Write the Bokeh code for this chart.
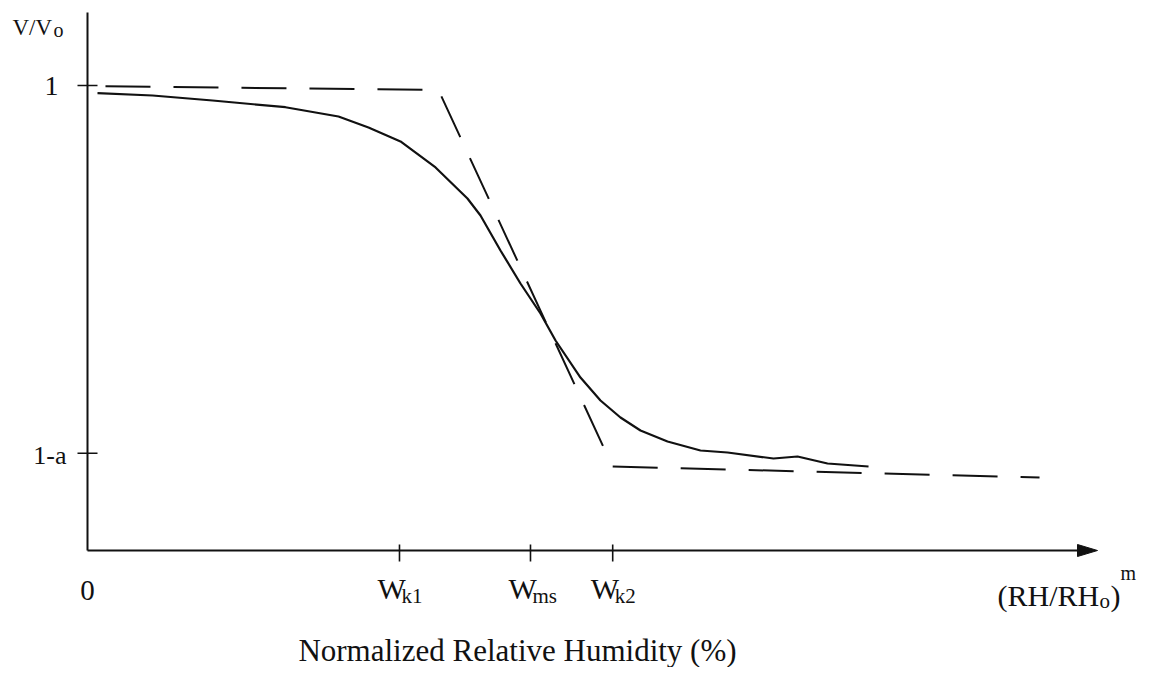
from bokeh.plotting import figure
from bokeh.models import Range1d
from bokeh.core.properties import value
from bokeh.embed import file_html
from bokeh.resources import INLINE

# ---------------- data ----------------
A = 0.791                      # the step height "a"  (V/Vo drops from 1 to 1-a)
X_END = 100.0                  # end of the (RH/RHo)^m axis (arrow tip)
Y_TOP = 1.157                  # top of the V/Vo axis

# measured response (solid curve)
x_curve = [0.99, 6.44, 12.38, 19.60, 24.85, 27.82, 30.99, 34.46, 37.62, 38.91,
           40.89, 42.87, 44.85, 46.34, 48.81, 50.79, 52.77, 54.75, 57.43, 60.69,
           63.37, 67.92, 70.30, 73.27, 77.33]
y_curve = [0.9834, 0.9785, 0.9677, 0.9533, 0.9333, 0.9097, 0.8796, 0.8237, 0.7570, 0.7204,
           0.6452, 0.5742, 0.5097, 0.4516, 0.3720, 0.3226, 0.2860, 0.2581, 0.2344, 0.2151,
           0.2108, 0.1978, 0.2022, 0.1871, 0.1806]

# piecewise-linear approximation (dashed)
x_approx = [1.78, 34.75, 51.98, 94.26]
y_approx = [0.9985, 0.9903, 0.1806, 0.1570]

# axis ticks
x_ticks = [30.89, 43.86, 52.0]
x_tick_main = ["W", "W", "W"]
x_tick_sub = ["k1", "ms", "k2"]
y_ticks = [1.0, 1.0 - A]
y_tick_labels = ["1", "1-a"]

# ---------------- layout (pixel scale of the drawing) ----------------
PX_X = 10.1     # pixels per x unit
PX_Y = 465.0    # pixels per y unit
W, H = 1137, 667
X0_PX, Y0_PX = 87, 550   # figure pixel of the origin

x_start = -X0_PX / PX_X
x_end = (W - X0_PX) / PX_X
y_end = Y0_PX / PX_Y
y_start = -(H - Y0_PX) / PX_Y

p = figure(width=W, height=H, output_backend="svg", toolbar_location=None,
           x_range=Range1d(x_start, x_end), y_range=Range1d(y_start, y_end),
           x_axis_type=None, y_axis_type=None, min_border=0,
           outline_line_color=None, background_fill_color="white",
           border_fill_color="white")
p.xgrid.visible = False
p.ygrid.visible = False

INK = "#111111"
FONT = value("Liberation Serif")

# axes
p.segment(x0=[0.0], y0=[0.0], x1=[0.0], y1=[Y_TOP], line_color=INK, line_width=2)
head_len = 20 / PX_X
head_half = 6 / PX_Y
p.segment(x0=[0.0], y0=[0.0], x1=[X_END - head_len * 0.5], y1=[0.0], line_color=INK, line_width=2)
p.patch(x=[X_END, X_END - head_len, X_END - head_len],
        y=[0.0, head_half, -head_half], fill_color=INK, line_color=INK, line_width=1)

# ticks
p.segment(x0=[-10 / PX_X] * len(y_ticks), y0=y_ticks, x1=[10 / PX_X] * len(y_ticks), y1=y_ticks,
          line_color=INK, line_width=1.6)
p.segment(x0=x_ticks, y0=[6 / PX_Y] * len(x_ticks), x1=x_ticks, y1=[-11 / PX_Y] * len(x_ticks),
          line_color=INK, line_width=1.6)

# curves
p.line(x_approx, y_approx, line_color=INK, line_width=2, line_dash="45 23")
p.line(x_curve, y_curve, line_color=INK, line_width=2.2)

# y tick labels
p.text(x=[0.0], y=[y_ticks[0]], text=[y_tick_labels[0]], x_offset=-29, y_offset=0,
       text_font=FONT, text_font_size="28px", text_align="right", text_baseline="alphabetic",
       text_color=INK)
p.text(x=[0.0], y=[y_ticks[1]], text=[y_tick_labels[1]], x_offset=-21, y_offset=2,
       text_font=FONT, text_font_size="26px", text_align="right", text_baseline="alphabetic",
       text_color=INK)

# y axis title V/Vo
p.text(x=[0.0], y=[Y_TOP], text=["V/V"], x_offset=-75, y_offset=15,
       text_font=FONT, text_font_size="23px", text_align="left", text_baseline="alphabetic",
       text_color=INK)
p.text(x=[0.0], y=[Y_TOP], text=["o"], x_offset=-34, y_offset=18,
       text_font=FONT, text_font_size="20px", text_align="left", text_baseline="alphabetic",
       text_color=INK)

# x tick labels
p.text(x=[0.0], y=[0.0], text=["0"], x_offset=0, y_offset=40,
       text_font=FONT, text_font_size="29px", text_align="center", text_baseline="alphabetic",
       text_color=INK)
p.text(x=x_ticks, y=[0.0] * 3, text=x_tick_main, x_offset=-22, y_offset=38,
       text_font=FONT, text_font_size="30px", text_align="left", text_baseline="alphabetic",
       text_color=INK)
p.text(x=x_ticks, y=[0.0] * 3, text=x_tick_sub, x_offset=2, y_offset=45,
       text_font=FONT, text_font_size="21px", text_align="left", text_baseline="alphabetic",
       text_color=INK)

# x axis title (RH/RHo)^m
p.text(x=[X_END], y=[0.0], text=["(RH/RH"], x_offset=-100, y_offset=45,
       text_font=FONT, text_font_size="30px", text_align="left", text_baseline="alphabetic",
       text_color=INK)
p.text(x=[X_END], y=[0.0], text=["o"], x_offset=2, y_offset=50,
       text_font=FONT, text_font_size="21px", text_align="left", text_baseline="alphabetic",
       text_color=INK)
p.text(x=[X_END], y=[0.0], text=[")"], x_offset=13, y_offset=45,
       text_font=FONT, text_font_size="30px", text_align="left", text_baseline="alphabetic",
       text_color=INK)
p.text(x=[X_END], y=[0.0], text=["m"], x_offset=23, y_offset=22,
       text_font=FONT, text_font_size="20px", text_align="left", text_baseline="alphabetic",
       text_color=INK)

# caption
p.text(x=[x_ticks[1]], y=[0.0], text=["Normalized Relative Humidity (%)"], x_offset=-13, y_offset=100,
       text_font=FONT, text_font_size="31px", text_align="center", text_baseline="alphabetic",
       text_color=INK)

open("out.html", "w").write(file_html(p, INLINE))
